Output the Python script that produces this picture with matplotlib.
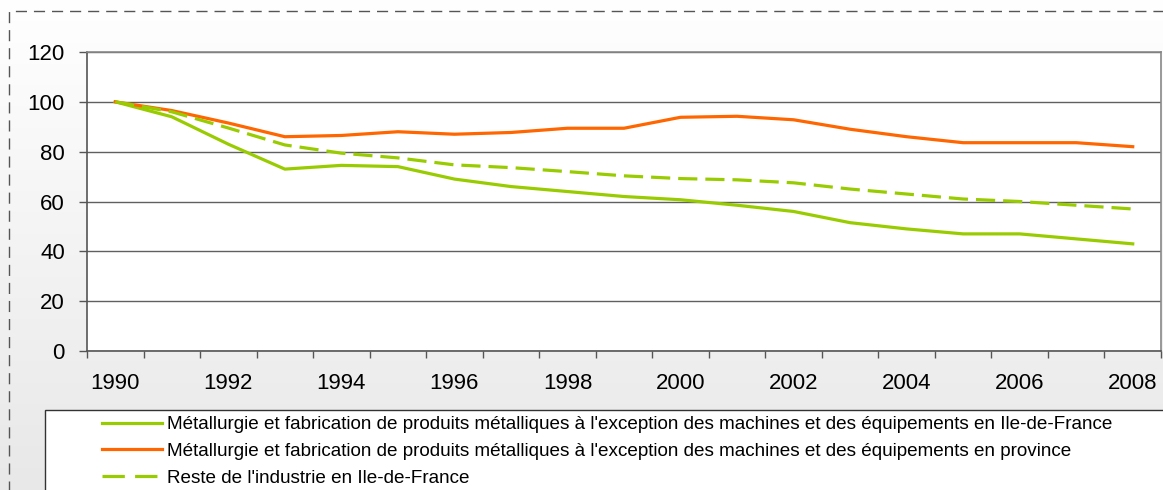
"""
Indice de l'emploi 1990-2008 (base 100 en 1990)
"""
import matplotlib
matplotlib.use("Agg")
import matplotlib.pyplot as plt
import numpy as np
from matplotlib.patches import Rectangle
from matplotlib.lines import Line2D

years = list(range(1990, 2009))
metal_idf = [100, 94, 83, 73, 74.5, 74, 69, 66, 64, 62, 60.7, 58.5, 56, 51.5, 49, 47, 47, 45, 43]
metal_province = [100, 96.5, 91.5, 86, 86.5, 88, 87, 87.7, 89.4, 89.4, 93.8, 94.2, 92.8, 89, 86, 83.6, 83.6, 83.6, 82]
reste_idf = [100, 96, 89.5, 82.7, 79.4, 77.5, 74.7, 73.6, 72, 70.3, 69.2, 68.7, 67.5, 65, 63, 61, 60, 58.5, 57]
labels = [
    "Métallurgie et fabrication de produits métalliques à l'exception des machines et des équipements en Ile-de-France",
    "Métallurgie et fabrication de produits métalliques à l'exception des machines et des équipements en province",
    "Reste de l'industrie en Ile-de-France",
]
y_ticks = [0, 20, 40, 60, 80, 100, 120]

GREEN = "#99CC00"
ORANGE = "#FF6600"

plt.rcParams['font.family'] = ['Liberation Sans', 'DejaVu Sans']

W, H = 1163, 490
fig = plt.figure(figsize=(W / 100, H / 100), dpi=100)

# fond en degrade
bg = fig.add_axes([0, 0, 1, 1], zorder=-10)
grad = np.linspace(0, 1, 256).reshape(-1, 1)
bg.imshow(grad, aspect='auto', cmap=matplotlib.colors.LinearSegmentedColormap.from_list(
    "g", ["#FFFFFF", "#E8E8E8"]), extent=[0, 1, 0, 1], origin='upper')
bg.set_axis_off()

# bordure en tirets
fig.patches.append(Rectangle((9 / W, -0.1), 1.2, (H - 11) / H + 0.1, transform=fig.transFigure,
                             fill=False, edgecolor="#555555", linewidth=1.0, linestyle=(0, (8, 5))))

ax = fig.add_axes([87 / W, (H - 351) / H, (1161 - 87) / W, (351 - 52) / H])
ax.set_facecolor("white")
x = np.arange(len(years))
ax.plot(x, metal_idf, color=GREEN, lw=2.3, solid_joinstyle='round', zorder=3)
ax.plot(x, metal_province, color=ORANGE, lw=2.3, solid_joinstyle='round', zorder=3)
ax.plot(x, reste_idf, color=GREEN, lw=2.3, dashes=(6, 2.5), zorder=3)

ax.set_ylim(0, 120)
ax.set_yticks(y_ticks)
ax.set_xlim(-0.5, len(years) - 0.5)
ax.set_xticks(np.arange(-0.5, len(years), 1.0))
ax.set_xticklabels([])
ax.set_xticks(x[::2], minor=True)
ax.set_xticklabels([str(y) for y in years[::2]], minor=True)
ax.tick_params(axis='x', which='major', length=5, width=1, color="#555555", direction='out')
ax.tick_params(axis='x', which='minor', length=0, pad=16, labelsize=16)
ax.tick_params(axis='y', length=6, width=1, color="#555555", pad=10, labelsize=16)
ax.grid(axis='y', color="#606060", lw=1.0)
ax.set_axisbelow(True)
for side in ['left', 'bottom']:
    ax.spines[side].set_color("#555555")
    ax.spines[side].set_linewidth(1.2)
for side in ['top', 'right']:
    ax.spines[side].set_color("#888888")
    ax.spines[side].set_linewidth(1.2)

# legende
fig.patches.append(Rectangle((45 / W, -0.1), 1.2, (H - 410) / H + 0.1, transform=fig.transFigure,
                             facecolor="white", edgecolor="#333333", linewidth=1.0, zorder=1))
handles = [
    Line2D([], [], color=GREEN, lw=2.3),
    Line2D([], [], color=ORANGE, lw=2.3),
    Line2D([], [], color=GREEN, lw=2.3, dashes=(7, 3.2)),
]
fig.legend(handles, labels, loc='upper left', bbox_to_anchor=(102 / W, (H - 416) / H),
           frameon=False, fontsize=13.6, handlelength=3.2, handletextpad=0.22,
           labelspacing=0.5, borderpad=0, borderaxespad=0)

fig.savefig("out.png", dpi=100)
